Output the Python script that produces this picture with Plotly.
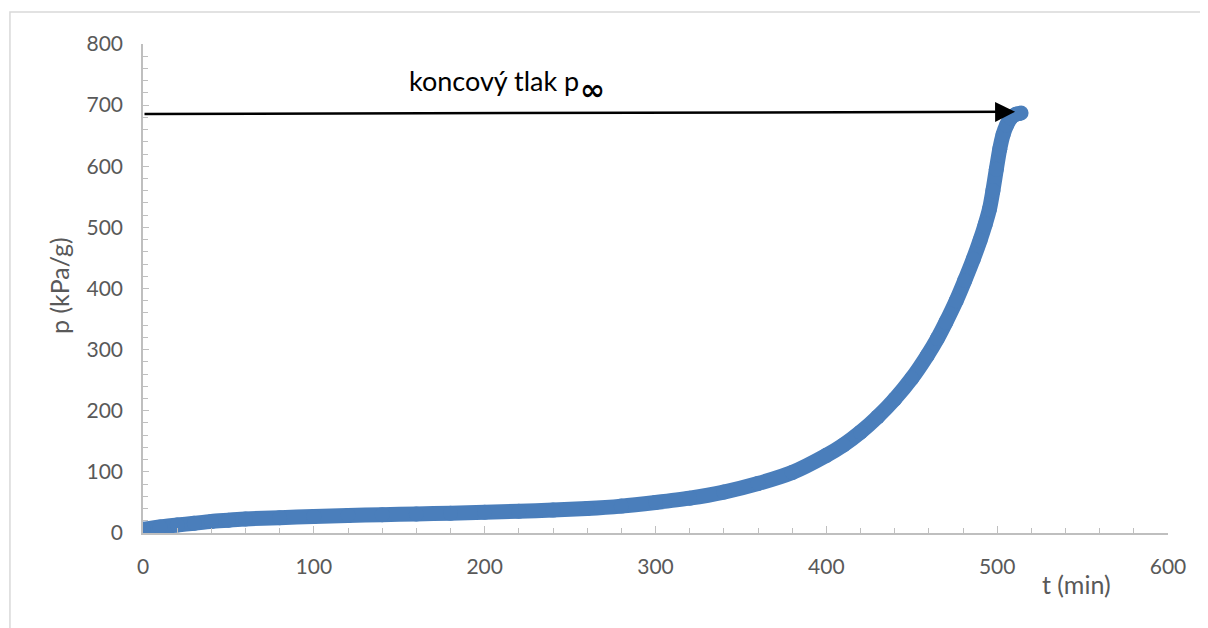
import plotly.graph_objects as go

# Data
t_min = [0, 10, 20, 30, 40, 50, 60, 80, 100, 120, 140, 160, 180, 200, 220, 240,
         260, 280, 300, 320, 340, 360, 380, 400, 410, 420, 430, 440, 450, 459,
         465, 470, 476, 481, 486, 490, 493, 495.5, 497.5, 499.5, 501.5, 503.5,
         505.5, 508, 511, 514]
p_kpa = [6, 10, 13, 16, 19, 21, 23, 25, 27, 28.5, 30, 31, 32.5, 34, 35.5, 37.5,
         40, 44, 50, 57, 67, 81, 99, 127, 144, 165, 190, 219, 253, 290,
         318, 345, 380, 413, 448, 479, 505, 530, 560, 595, 628, 652,
         667, 679, 685, 687]

arrow_start = (0, 685.5)
arrow_end = (510.5, 689)

x_ticks = [0, 100, 200, 300, 400, 500, 600]
y_ticks = [0, 100, 200, 300, 400, 500, 600, 700, 800]

BLUE = "#4A7EBB"
AXIS = "#BFBFBF"
LABEL = "#595959"
FONT = "Lato"

fig = go.Figure()
fig.add_trace(go.Scatter(
    x=t_min, y=p_kpa, mode="lines+markers",
    line=dict(color=BLUE, width=15, shape="spline", smoothing=0.6),
    marker=dict(color=BLUE, size=15),
    showlegend=False, hoverinfo="x+y",
))

axis_common = dict(
    showgrid=False, zeroline=False, showline=True,
    linecolor=AXIS, linewidth=1.5,
    ticks="inside", tickcolor=AXIS, tickwidth=1.2,
    tickfont=dict(family=FONT, size=21, color=LABEL),
)

fig.update_xaxes(
    range=[0, 600], tickvals=x_ticks, ticklen=7,
    minor=dict(dtick=20, ticks="inside", ticklen=5, tickcolor=AXIS, tickwidth=1.2),
    ticklabelstandoff=14,
    **axis_common,
)
fig.update_yaxes(
    range=[0, 800], tickvals=y_ticks, ticklen=6,
    minor=dict(dtick=20, ticks="inside", ticklen=5, tickcolor=AXIS, tickwidth=1.2),
    ticklabelstandoff=14,
    **axis_common,
)

annotations = [
    dict(x=arrow_end[0], y=arrow_end[1], ax=arrow_start[0], ay=arrow_start[1],
         xref="x", yref="y", axref="x", ayref="y", text="", showarrow=True,
         arrowhead=2, arrowsize=1.6, arrowwidth=2.5, arrowcolor="black"),
    dict(x=154.5, y=741, xref="x", yref="y",
         text="koncový tlak p",
         showarrow=False, xanchor="left", yanchor="middle",
         font=dict(family=FONT, size=27, color="black")),
    dict(x=263, y=726, xref="x", yref="y",
         text="<b>∞</b>",
         showarrow=False, xanchor="center", yanchor="middle",
         font=dict(family="DejaVu Sans", size=30, color="black")),
    dict(x=-0.082, y=0.507, xref="paper", yref="paper", text="p (kPa/g)",
         showarrow=False, textangle=-90, xanchor="center", yanchor="middle",
         font=dict(family=FONT, size=25, color=LABEL)),
    dict(x=0.9107, y=-0.104, xref="paper", yref="paper", text="t (min)",
         showarrow=False, xanchor="center", yanchor="middle",
         font=dict(family=FONT, size=25, color=LABEL)),
]

shapes = [
    dict(type="rect", xref="paper", yref="paper",
         x0=-0.1298, x1=1.05, y0=-0.21, y1=1.0654,
         line=dict(color="#D9D9D9", width=1.5), fillcolor="rgba(0,0,0,0)",
         layer="below"),
]

fig.update_layout(
    width=1200, height=620,
    margin=dict(l=135, r=40, t=36, b=95),
    paper_bgcolor="white", plot_bgcolor="white",
    annotations=annotations, shapes=shapes,
    font=dict(family=FONT),
)

fig.write_html("out.html")
